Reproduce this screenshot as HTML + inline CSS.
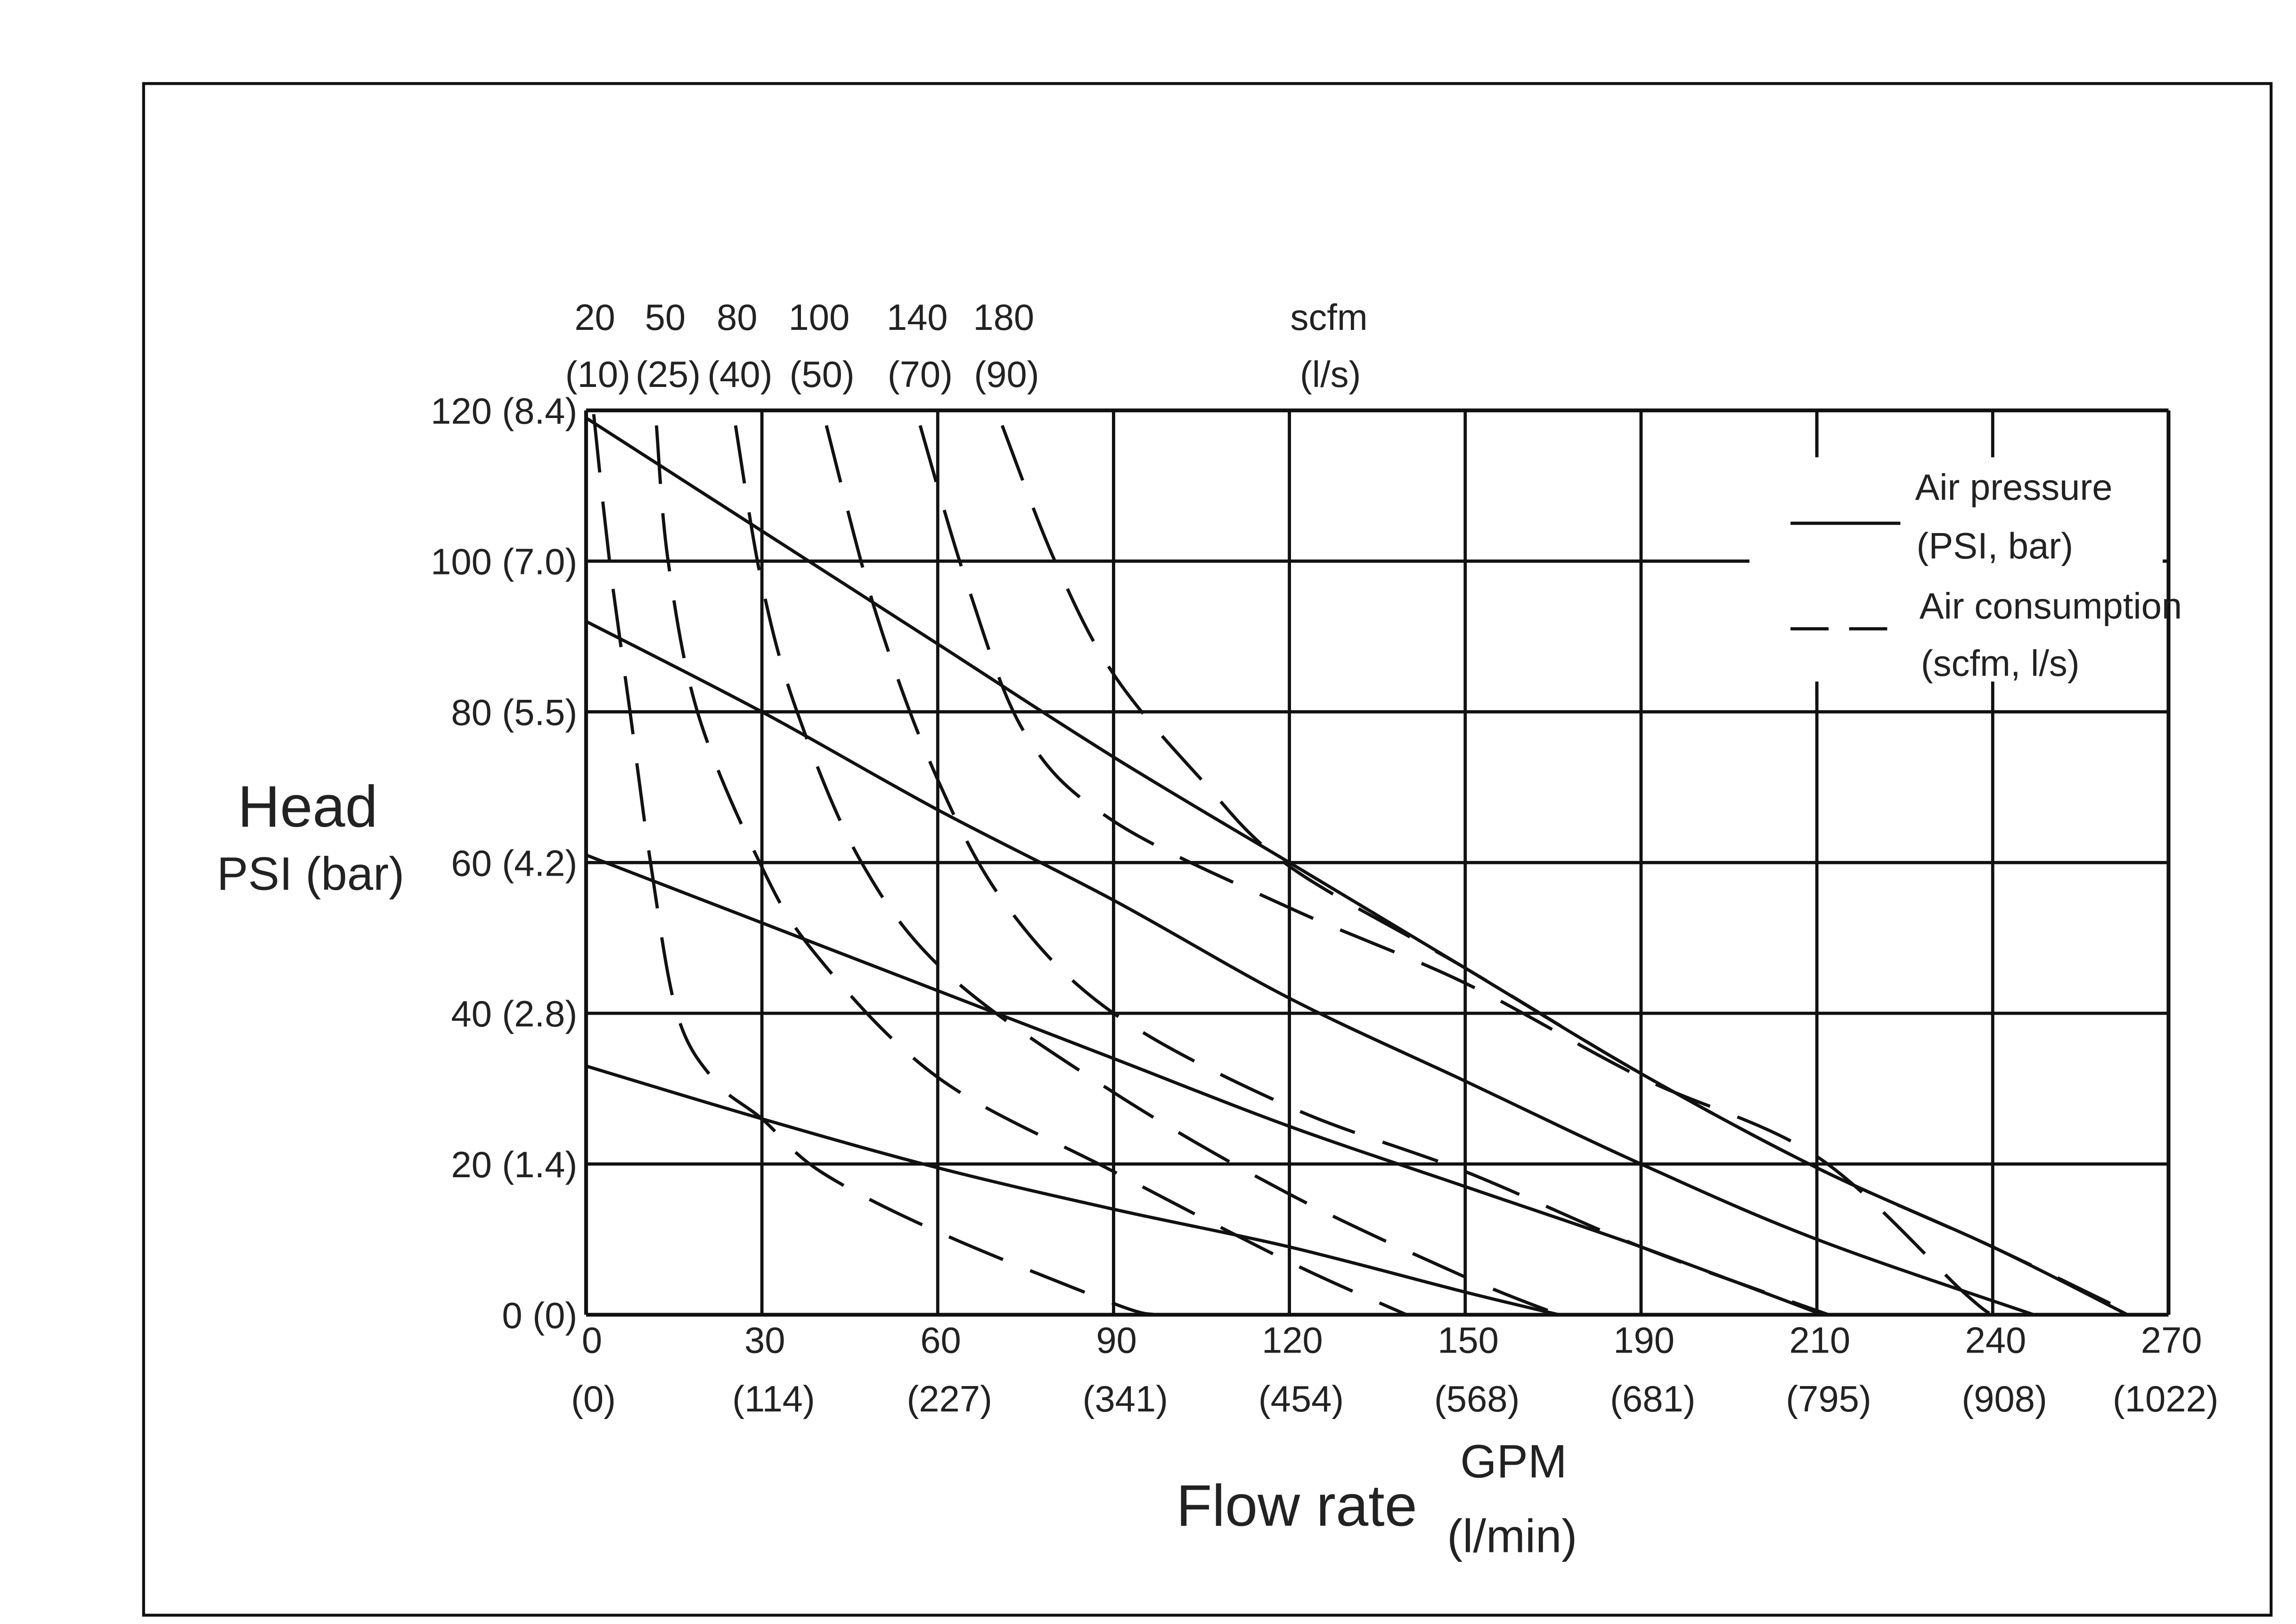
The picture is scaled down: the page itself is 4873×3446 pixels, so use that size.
<!DOCTYPE html>
<html><head><meta charset="utf-8"><style>
html,body{margin:0;padding:0;background:#fff}
svg{display:block}
text{font-family:"Liberation Sans",Arial,sans-serif;fill:#222}
</style></head><body>
<svg id="chart" width="4873" height="3446" viewBox="0 0 1567 1108" preserveAspectRatio="none" xmlns="http://www.w3.org/2000/svg">
<rect x="98" y="57" width="1452" height="1045" fill="#fff" stroke="#111" stroke-width="2"/>
<g id="grid"></g>
<g id="series"></g>
<g id="labels"></g>
<g id="legend">
  <rect x="1194" y="312" width="282" height="153" fill="#fff"/>
  <line x1="1222" y1="357" x2="1297" y2="357" stroke="#111" stroke-width="2.2"/>
  <text x="1307" y="341" font-size="25">Air pressure</text>
  <text x="1308" y="381" font-size="25">(PSI, bar)</text>
  <line x1="1222" y1="429" x2="1292" y2="429" stroke="#111" stroke-width="2.2" stroke-dasharray="26,14"/>
  <text x="1310" y="422" font-size="25">Air consumption</text>
  <text x="1311" y="461" font-size="25">(scfm, l/s)</text>
  <line x1="1240" y1="280" x2="1240" y2="310" stroke="#111" stroke-width="2.2"/>
  <line x1="1240" y1="466" x2="1240" y2="480" stroke="#111" stroke-width="2.2"/>
</g>
<g>
  <text x="210" y="564" font-size="40" text-anchor="middle">Head</text>
  <text x="212" y="607" font-size="32" text-anchor="middle">PSI (bar)</text>
  <text x="885" y="1041" font-size="40" text-anchor="middle">Flow rate</text>
  <text x="1033" y="1008" font-size="32" text-anchor="middle">GPM</text>
  <text x="1032" y="1059" font-size="32" text-anchor="middle">(l/min)</text>
</g>
</svg>
<script>
// data
const xTicks = [0,30,60,90,120,150,180,210,240,270];
const xTickLabels = ["0","30","60","90","120","150","190","210","240","270"];
const xTickLabelsMetric = ["(0)","(114)","(227)","(341)","(454)","(568)","(681)","(795)","(908)","(1022)"];
const yTicks = [0,20,40,60,80,100,120];
const yTickLabels = ["0 (0)","20 (1.4)","40 (2.8)","60 (4.2)","80 (5.5)","100 (7.0)","120 (8.4)"];
const scfmLabels = ["20","50","80","100","140","180"];
const lpsLabels = ["(10)","(25)","(40)","(50)","(70)","(90)"];
// solid: air pressure curves [gpm, psi]
const p120 = [[0,119],[30,104],[60,89],[90,74],[120,60],[150,46],[180,32],[210,19.5],[240,9],[263,0]];
const p90 = [[0,92],[30,80],[60,67],[90,55],[120,42],[150,31],[180,20],[210,10],[247,0]];
const p60 = [[0,61],[30,52],[60,43],[90,34],[120,25],[150,17],[180,9],[211,0]];
const p30 = [[0,33],[30,26],[60,19.5],[90,14],[120,9],[150,3],[166,0]];
// dashed: air consumption curves
const c20 = [[1.3,119.5],[4,100],[7.5,80],[11,60],[15.5,40],[22,31],[30,26],[40,19],[60,11],[90,1.5],[97,0]];
const c50 = [[12,118],[14,100],[19,80],[29,61],[39,48],[60,31.5],[90,19],[120,7],[140,0]];
const c80 = [[25.5,118],[30,97],[36,80],[47,60],[62,45],[90,29.5],[120,16],[150,5],[166,0]];
const c100 = [[41,118],[49.5,93],[60,71],[72,54],[90,40],[120,27.6],[150,19],[180,9],[212,0]];
const c140 = [[57,118],[65,97],[75,77],[90,65.5],[120,54],[150,44],[180,31.5],[210,21],[235,3],[240,0]];
const c180 = [[71,118],[80,100],[90,85],[105,71],[120,59.5],[150,46],[180,32],[210,19.5],[240,9],[264,0]];

const X0=400,X1=1480,Y0=897,Y1=280;
const sx=v=>X0+(v-0)*(X1-X0)/270;
const sy=v=>Y0-(v-0)*(Y0-Y1)/120;
const NS="http://www.w3.org/2000/svg";
function mk(tag,attrs,parent){const e=document.createElementNS(NS,tag);for(const k in attrs)e.setAttribute(k,attrs[k]);parent.appendChild(e);return e;}
const grid=document.getElementById('grid'),series=document.getElementById('series'),labels=document.getElementById('labels');

xTicks.forEach((t,i)=>{
  const l=mk('line',{x1:sx(t),y1:Y1,x2:sx(t),y2:Y0,stroke:'#111','stroke-width':(i==0||i==xTicks.length-1)?2.6:2.2},grid);
  
  
  const a=mk('text',{x:sx(t)+(i==0?4:2),y:923,'font-size':25,'text-anchor':'middle'},labels);a.textContent=xTickLabels[i];
  
  
  const b=mk('text',{x:sx(t)+(i==xTicks.length-1?-2:i==0?5:8),y:963,'font-size':25,'text-anchor':'middle'},labels);b.textContent=xTickLabelsMetric[i];
  
  
});
yTicks.forEach((t,i)=>{
  const l=mk('line',{x1:X0,y1:sy(t),x2:X1,y2:sy(t),stroke:'#111','stroke-width':(i==0||i==yTicks.length-1)?2.6:2.2},grid);
  
  
  const a=mk('text',{x:394,y:sy(t)+9,'font-size':25,'text-anchor':'end'},labels);a.textContent=yTickLabels[i];
  
  
});
const topX=[406,454,503,559,626,685];
scfmLabels.forEach((s,i)=>{
  const a=mk('text',{x:topX[i],y:225,'font-size':25,'text-anchor':'middle'},labels);a.textContent=s;
  
  
  const b=mk('text',{x:topX[i]+2,y:264,'font-size':25,'text-anchor':'middle'},labels);b.textContent=lpsLabels[i];
  
  
});
{const a=mk('text',{x:907,y:225,'font-size':25,'text-anchor':'middle'},labels);a.textContent='scfm';


const b=mk('text',{x:908,y:264,'font-size':25,'text-anchor':'middle'},labels);b.textContent='(l/s)';

}

function smooth(pts){
  const P=pts.map(p=>[sx(p[0]),sy(p[1])]);
  let d='M'+P[0][0]+','+P[0][1];
  for(let i=0;i<P.length-1;i++){
    const p0=P[i-1]||P[i],p1=P[i],p2=P[i+1],p3=P[i+2]||p2;
    const c1=[p1[0]+(p2[0]-p0[0])/6,p1[1]+(p2[1]-p0[1])/6];
    const c2=[p2[0]-(p3[0]-p1[0])/6,p2[1]-(p3[1]-p1[1])/6];
    d+=' C'+c1+' '+c2+' '+p2;
  }
  return d;
}
[[p120,'pressure-120'],[p90,'pressure-90'],[p60,'pressure-60'],[p30,'pressure-30']].forEach(([d,n])=>{
  const e=mk('path',{d:smooth(d),fill:'none',stroke:'#111','stroke-width':2.2},series);
  
  
});
[[c20,'consumption-20'],[c50,'consumption-50'],[c80,'consumption-80'],[c100,'consumption-100'],[c140,'consumption-140'],[c180,'consumption-180']].forEach(([d,n])=>{
  const e=mk('path',{d:smooth(d),fill:'none',stroke:'#111','stroke-width':2.2,'stroke-dasharray':'40,20'},series);
  
  
});
</script>
</body></html>
